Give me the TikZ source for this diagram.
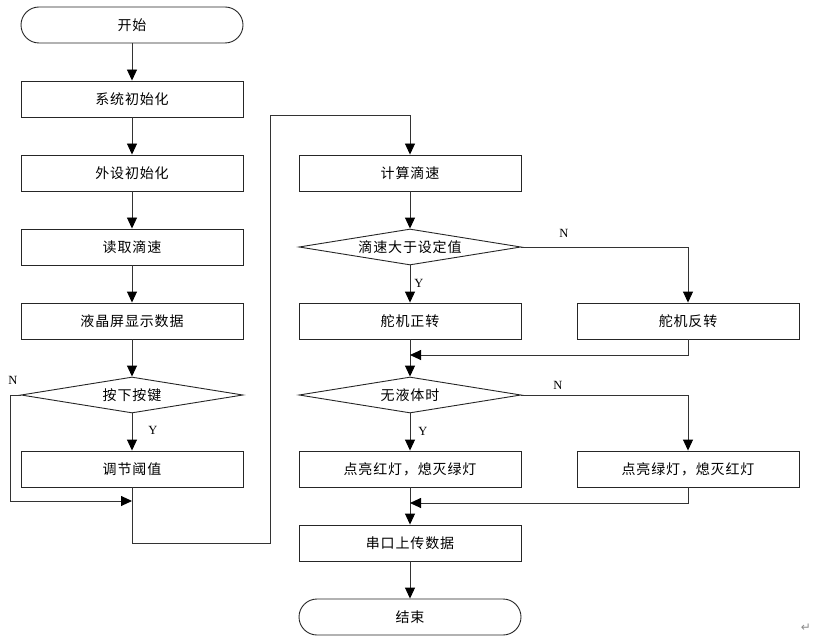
\documentclass[tikz,border=0pt]{standalone}
\usepackage{fontspec}
\newfontfamily\cjk[LetterSpace=6]{Noto Sans CJK SC}
\newfontfamily\symf{DejaVu Sans}
\setmainfont{Liberation Serif}
\usetikzlibrary{arrows.meta,shapes.geometric}
\begin{document}
\begin{tikzpicture}[x=1pt,y=-1pt,
  every node/.style={font=\cjk\fontsize{14}{16}\selectfont},
  box/.style={draw=black!85,line width=0.9pt,minimum width=222pt,minimum height=36pt,inner sep=0pt},
  term/.style={box,rounded corners=18pt},
  dec/.style={draw=black!85,line width=0.9pt,shape=diamond,aspect=6.17,minimum width=222pt,minimum height=36pt,inner sep=0pt},
  line/.style={draw=black!80,line width=0.9pt},
  arr/.style={line,-{Triangle[length=11pt,width=10pt,color=black]}},
  lab/.style={font=\fontsize{12.5}{14}\selectfont}]
\useasboundingbox (0,0) rectangle (813,644);
% left column
\node[term] (start) at (132,25) {开始};
\node[box] (s1) at (132,99) {系统初始化};
\node[box] (s2) at (132,173) {外设初始化};
\node[box] (s3) at (132,247) {读取滴速};
\node[box] (s4) at (132,321) {液晶屏显示数据};
\node[dec] (d1) at (132,395) {按下按键};
\node[box] (s5) at (132,469) {调节阈值};
% right column
\node[box] (r1) at (410,173) {计算滴速};
\node[dec] (d2) at (410,247) {滴速大于设定值};
\node[box] (r2) at (410,321) {舵机正转};
\node[box] (r3) at (688,321) {舵机反转};
\node[dec] (d3) at (410,395) {无液体时};
\node[box] (r4) at (410,469) {点亮红灯，熄灭绿灯};
\node[box] (r5) at (688,469) {点亮绿灯，熄灭红灯};
\node[box] (r6) at (410,543) {串口上传数据};
\node[term] (stop) at (410,617) {结束};
% helper coordinates
\coordinate (m1) at (132,501);
\coordinate (lft) at (10,395);
\coordinate (c1) at (132,543);
\coordinate (c2) at (270,543);
\coordinate (c3) at (270,115);
\coordinate (c4) at (410,115);
\coordinate (m2) at (410,355);
\coordinate (m3) at (410,503);
% left connectors
\draw[arr] (start) -- (s1);
\draw[arr] (s1) -- (s2);
\draw[arr] (s2) -- (s3);
\draw[arr] (s3) -- (s4);
\draw[arr] (s4) -- (d1);
\draw[arr] (d1) -- (s5);
\draw[arr] (d1.west) -- (lft) |- (m1);
\draw[arr] (s5.south) -- (c1) -- (c2) -- (c3) -- (c4) -- (r1.north);
% right connectors
\draw[arr] (r1) -- (d2);
\draw[arr] (d2) -- (r2);
\draw[arr] (d2.east) -| (r3.north);
\draw[arr] (r2) -- (d3);
\draw[arr] (r3.south) |- (m2);
\draw[arr] (d3) -- (r4);
\draw[arr] (d3.east) -| (r5.north);
\draw[arr] (r4) -- (r6);
\draw[arr] (r5.south) |- (m3);
\draw[arr] (r6) -- (stop);
% labels
\node[lab] (n1) at (13,380) {N};
\node[lab] (y1) at (153,430) {Y};
\node[lab] (n2) at (564,233) {N};
\node[lab] (y2) at (419,283) {Y};
\node[lab] (n3) at (558,385) {N};
\node[lab] (y3) at (423,431) {Y};
\node[font=\symf\fontsize{12}{14}\selectfont,text=black!45] (ret) at (806,628) {↵};
\end{tikzpicture}
\end{document}
